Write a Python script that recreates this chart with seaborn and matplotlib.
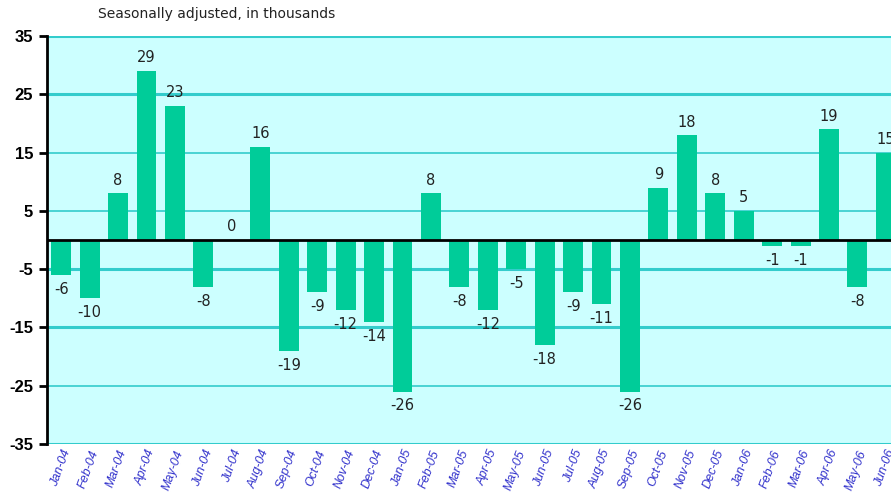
import matplotlib
matplotlib.use("Agg")
import matplotlib.pyplot as plt
import pandas as pd
import seaborn as sns

months = ["Jan-04", "Feb-04", "Mar-04", "Apr-04", "May-04", "Jun-04", "Jul-04", "Aug-04",
          "Sep-04", "Oct-04", "Nov-04", "Dec-04", "Jan-05", "Feb-05", "Mar-05", "Apr-05",
          "May-05", "Jun-05", "Jul-05", "Aug-05", "Sep-05", "Oct-05", "Nov-05", "Dec-05",
          "Jan-06", "Feb-06", "Mar-06", "Apr-06", "May-06", "Jun-06"]
change = [-6, -10, 8, 29, 23, -8, 0, 16, -19, -9, -12, -14, -26, 8, -8, -12,
          -5, -18, -9, -11, -26, 9, 18, 8, 5, -1, -1, 19, -8, 15]
yticks = [35, 25, 15, 5, -5, -15, -25, -35]

df = pd.DataFrame({"month": months, "change": change})

sns.set_theme(style="white")
plt.rcParams["font.family"] = ["DejaVu Sans"]

fig = plt.figure(figsize=(8.91, 5.01), dpi=100)
ax = fig.add_axes([47 / 891, 1 - 444 / 501, 1 - 47 / 891, 408 / 501])
ax.set_facecolor("#CCFFFF")

sns.barplot(data=df, x="month", y="change", color="#00CC99", width=0.7,
            saturation=1, linewidth=0, edgecolor="none", ax=ax, zorder=3)

# gridlines (some drawn heavier, like the original)
for v in yticks:
    lw = 2.2 if v in (35, 25, -5, -15, -35) else 1.2
    ax.axhline(v, color="#33CCCC", lw=lw, zorder=1)
ax.axhline(0, color="black", lw=2, zorder=4)

ax.set_ylim(-35, 35)
ax.set_xlim(-0.5, 29.18)
ax.set_yticks(yticks)
ax.set_yticklabels([str(v) for v in yticks], fontfamily="Liberation Sans",
                   fontweight="bold", fontsize=12, color="black")
ax.tick_params(axis="y", direction="out", length=6, width=2, color="black", pad=4, left=True)
ax.tick_params(axis="x", length=0, pad=3)
ax.set_xticks(range(len(months)))
ax.set_xticklabels(months, rotation=70, ha="right", va="top", rotation_mode="anchor",
                   fontsize=9, color="#3333CC", style="italic", fontfamily="Liberation Sans")
ax.set_xlabel("")
ax.set_ylabel("")

for s in ["top", "right", "bottom"]:
    ax.spines[s].set_visible(False)
ax.spines["left"].set_color("black")
ax.spines["left"].set_linewidth(2)

for bar, v in zip(ax.patches, change):
    x = bar.get_x() + bar.get_width() / 2
    if v >= 0:
        ax.annotate(str(v), (x, v), xytext=(0, 4), textcoords="offset points",
                    ha="center", va="bottom", fontsize=10.5, color="#222222", zorder=5)
    else:
        ax.annotate(str(v), (x, v), xytext=(0, -5), textcoords="offset points",
                    ha="center", va="top", fontsize=10.5, color="#222222", zorder=5)

fig.text(98 / 891, 1 - 14 / 501, "Seasonally adjusted, in thousands",
         ha="left", va="center", fontsize=10, color="#222222")

fig.savefig("out.png", dpi=100)
